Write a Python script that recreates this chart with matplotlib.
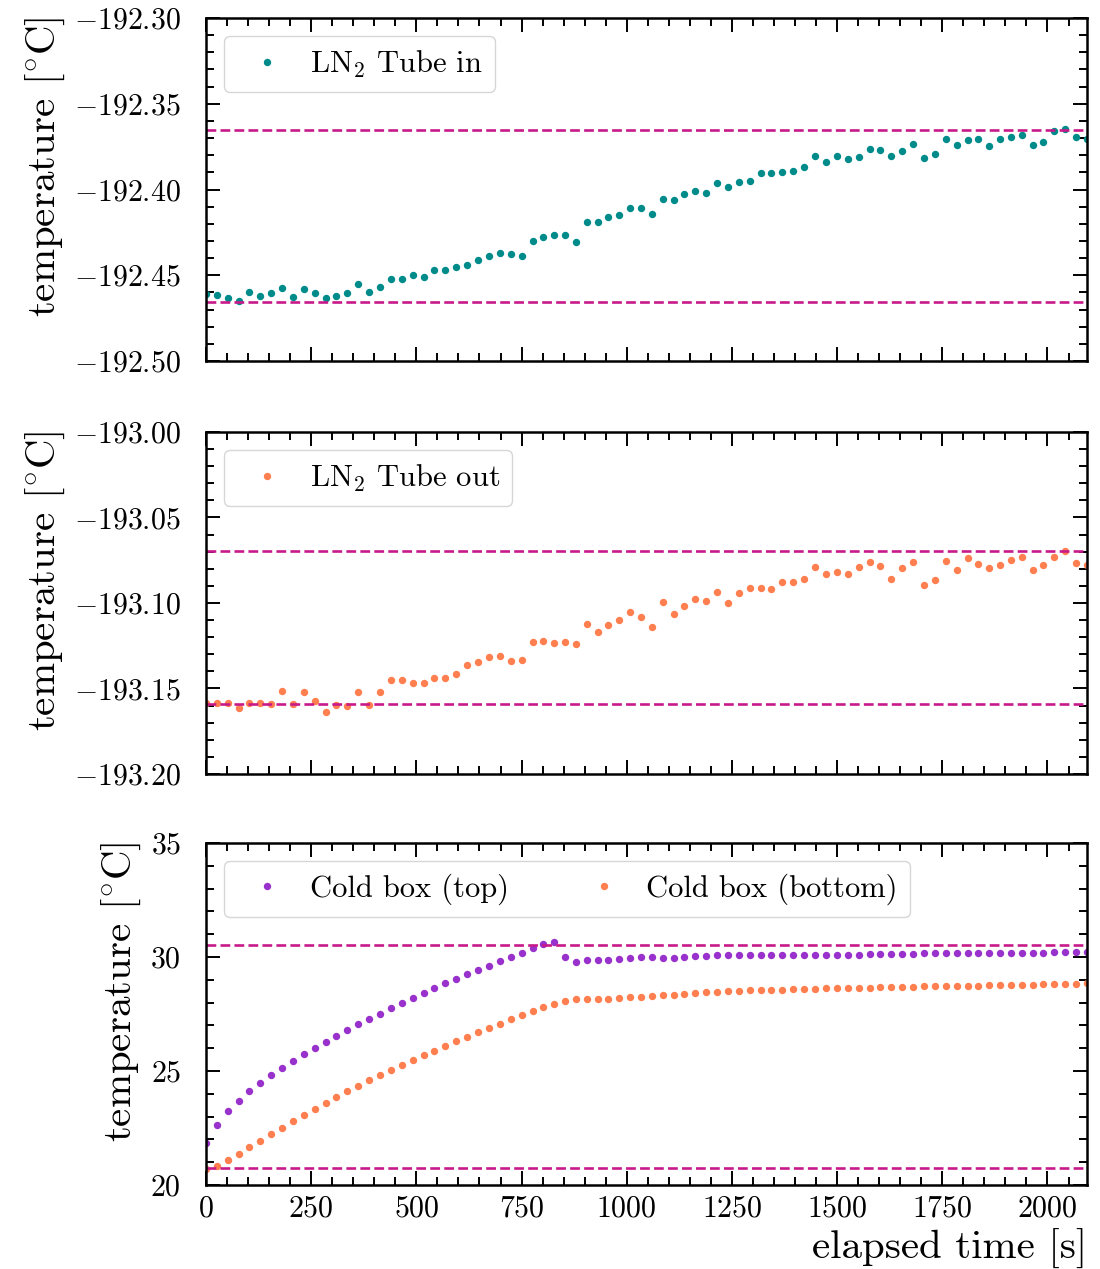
import numpy as np
import matplotlib
matplotlib.use("Agg")
from matplotlib import pyplot as plt
from matplotlib.ticker import MultipleLocator, ScalarFormatter

plt.rcParams['font.family'] = 'serif'
plt.rcParams['font.serif'] = ['cmr10']
plt.rcParams['mathtext.fontset'] = 'cm'
plt.rcParams['axes.formatter.use_mathtext'] = True

# elapsed time of each sample [s]
time_s = [0, 26, 52, 78, 103, 129, 155, 181, 207, 233,
          259, 284, 310, 336, 362, 388, 414, 439, 465, 491,
          517, 543, 569, 595, 620, 646, 672, 698, 724, 750,
          776, 801, 827, 853, 879, 905, 931, 956, 982, 1008,
          1034, 1060, 1086, 1112, 1137, 1163, 1189, 1215, 1241, 1267,
          1293, 1318, 1344, 1370, 1396, 1422, 1448, 1473, 1499, 1525,
          1551, 1577, 1603, 1629, 1654, 1680, 1706, 1732, 1758, 1784,
          1810, 1835, 1861, 1887, 1913, 1939, 1965, 1990, 2016, 2042,
          2068, 2094]

ln2_in = [-192.4609, -192.4615, -192.4633, -192.4648, -192.4600, -192.4621, -192.4603, -192.4574, -192.4625, -192.4582,
          -192.4603, -192.4635, -192.4623, -192.4603, -192.4553, -192.4598, -192.4569, -192.4520, -192.4524, -192.4499,
          -192.4510, -192.4471, -192.4467, -192.4452, -192.4438, -192.4413, -192.4386, -192.4372, -192.4376, -192.4386,
          -192.4298, -192.4277, -192.4267, -192.4265, -192.4304, -192.4190, -192.4190, -192.4160, -192.4147, -192.4106,
          -192.4108, -192.4143, -192.4055, -192.4063, -192.4026, -192.4007, -192.4020, -192.3962, -192.3987, -192.3954,
          -192.3950, -192.3902, -192.3906, -192.3898, -192.3890, -192.3867, -192.3807, -192.3838, -192.3807, -192.3824,
          -192.3810, -192.3762, -192.3770, -192.3803, -192.3774, -192.3735, -192.3818, -192.3795, -192.3707, -192.3742,
          -192.3711, -192.3707, -192.3746, -192.3704, -192.3692, -192.3682, -192.3739, -192.3723, -192.3659, -192.3649,
          -192.3694, -192.3707]

ln2_out = [-193.1583, -193.1583, -193.1583, -193.1616, -193.1583, -193.1583, -193.1593, -193.1517, -193.1593, -193.1519,
           -193.1573, -193.1639, -193.1596, -193.1602, -193.1520, -193.1596, -193.1520, -193.1452, -193.1450, -193.1466,
           -193.1468, -193.1441, -193.1441, -193.1413, -193.1363, -193.1345, -193.1318, -193.1310, -193.1341, -193.1335,
           -193.1226, -193.1220, -193.1234, -193.1228, -193.1242, -193.1125, -193.1172, -193.1131, -193.1101, -193.1055,
           -193.1082, -193.1140, -193.0992, -193.1062, -193.1016, -193.0979, -193.0988, -193.0934, -193.1002, -193.0943,
           -193.0912, -193.0914, -193.0916, -193.0877, -193.0875, -193.0858, -193.0791, -193.0830, -193.0821, -193.0828,
           -193.0791, -193.0762, -193.0784, -193.0860, -193.0793, -193.0758, -193.0897, -193.0867, -193.0754, -193.0807,
           -193.0739, -193.0772, -193.0793, -193.0776, -193.0750, -193.0731, -193.0809, -193.0780, -193.0731, -193.0694,
           -193.0766, -193.0778]

box_top = [21.83, 22.65, 23.23, 23.70, 24.11, 24.49, 24.82, 25.15, 25.45, 25.75,
           26.02, 26.29, 26.55, 26.80, 27.05, 27.30, 27.51, 27.75, 27.97, 28.20,
           28.44, 28.66, 28.85, 29.04, 29.24, 29.43, 29.62, 29.82, 30.01, 30.19,
           30.38, 30.56, 30.64, 29.99, 29.77, 29.85, 29.88, 29.85, 29.91, 29.96,
           29.99, 30.00, 29.97, 29.97, 30.00, 30.04, 30.06, 30.07, 30.07, 30.07,
           30.09, 30.09, 30.09, 30.09, 30.09, 30.09, 30.09, 30.09, 30.09, 30.09,
           30.09, 30.12, 30.12, 30.13, 30.13, 30.15, 30.16, 30.16, 30.16, 30.16,
           30.16, 30.18, 30.18, 30.18, 30.18, 30.18, 30.19, 30.19, 30.21, 30.21,
           30.22, 30.22]

box_bottom = [20.69, 20.83, 21.08, 21.36, 21.65, 21.94, 22.22, 22.51, 22.81, 23.07,
              23.35, 23.61, 23.86, 24.11, 24.36, 24.59, 24.82, 25.03, 25.26, 25.48,
              25.69, 25.89, 26.11, 26.30, 26.51, 26.70, 26.89, 27.08, 27.27, 27.44,
              27.63, 27.79, 27.92, 28.08, 28.14, 28.14, 28.14, 28.16, 28.19, 28.23,
              28.26, 28.27, 28.32, 28.33, 28.39, 28.42, 28.46, 28.48, 28.51, 28.52,
              28.54, 28.55, 28.55, 28.57, 28.60, 28.61, 28.61, 28.63, 28.64, 28.64,
              28.64, 28.66, 28.67, 28.68, 28.70, 28.70, 28.71, 28.73, 28.73, 28.73,
              28.74, 28.74, 28.76, 28.76, 28.77, 28.77, 28.79, 28.80, 28.82, 28.82,
              28.83, 28.85]

# reference levels (dashed lines)
ln2_in_band = [-192.3655, -192.4655]
ln2_out_band = [-193.0696, -193.1593]
box_band = [30.51, 20.75]

line_color = '#c71a8a'
ms = 4.3

fig = plt.figure(figsize=(11, 12.69), dpi=100)
ax1 = fig.add_axes([0.1873, 0.7155, 0.8009, 0.2703])
ax2 = fig.add_axes([0.1873, 0.3901, 0.8009, 0.2695], sharex=ax1)
ax3 = fig.add_axes([0.1873, 0.0662, 0.8009, 0.2695], sharex=ax1)

ax1.plot(time_s, ln2_in, 'o', ms=ms, color='darkcyan', label=r'LN$_2$ Tube in')
ax2.plot(time_s, ln2_out, 'o', ms=ms, color='coral', label=r'LN$_2$ Tube out')
ax3.plot(time_s, box_top, 'o', ms=ms, color='darkorchid', label='Cold box (top)')
ax3.plot(time_s, box_bottom, 'o', ms=ms, color='coral', label='Cold box (bottom)')

for ax, band in zip([ax1, ax2, ax3], [ln2_in_band, ln2_out_band, box_band]):
    for y in band:
        ax.axhline(y, color=line_color, ls='--', lw=1.9)

ax1.set_ylim(-192.50, -192.30)
ax2.set_ylim(-193.20, -193.00)
ax3.set_ylim(20, 35)
ax1.set_xlim(0, 2094)

for ax in [ax1, ax2]:
    ax.yaxis.set_major_locator(MultipleLocator(0.05))
    ax.yaxis.set_minor_locator(MultipleLocator(0.01))
    ax.tick_params(labelbottom=False)
ax3.yaxis.set_major_locator(MultipleLocator(5))
ax3.yaxis.set_minor_locator(MultipleLocator(1))

for ax in [ax1, ax2, ax3]:
    fmt = ScalarFormatter(useOffset=False)
    ax.yaxis.set_major_formatter(fmt)
    ax.xaxis.set_major_locator(MultipleLocator(250))
    ax.xaxis.set_minor_locator(MultipleLocator(50))
    ax.tick_params(which='both', direction='in', top=True, right=True, width=1.4, labelsize=21.5)
    ax.tick_params(which='major', length=10)
    ax.tick_params(which='minor', length=6)
    ax.tick_params(axis='y', pad=18)
    ax.tick_params(axis='x', pad=7)
    for s in ax.spines.values():
        s.set_linewidth(1.8)
    ax.set_ylabel(r'temperature [$^{\circ}$C]', fontsize=29.5, labelpad=5)
    ax.yaxis.label.set_y(0.565)

leg_kw = dict(loc='upper left', fontsize=22, handletextpad=0.4, borderaxespad=0.6)
ax1.legend(**leg_kw)
ax2.legend(**leg_kw)
ax3.legend(ncol=2, columnspacing=2.1, **leg_kw)
ax3.set_xlabel('elapsed time [s]', fontsize=29.5, loc='right', labelpad=5)

fig.savefig('out.png', dpi=100)
